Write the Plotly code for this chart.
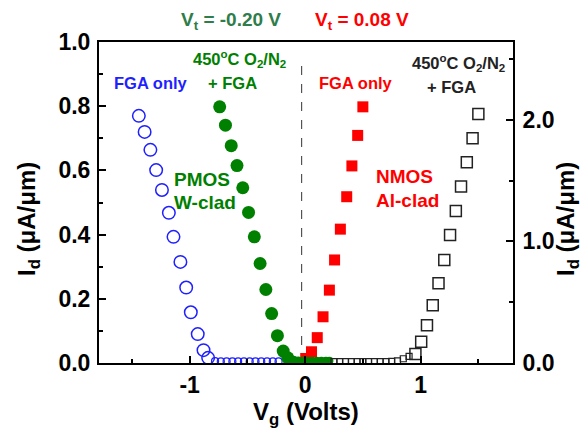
import plotly.graph_objects as go

# ---------------- data ----------------
# PMOS, FGA only (left axis, uA/um)
pmos_fga_v = [-1.44, -1.39, -1.34, -1.29, -1.24, -1.18, -1.14, -1.08, -1.03, -0.99, -0.93, -0.88, -0.84]
pmos_fga_id = [0.770, 0.720, 0.664, 0.601, 0.539, 0.468, 0.393, 0.315, 0.235, 0.158, 0.090, 0.040, 0.016]
pmos_fga_base_v = [-0.78, -0.73, -0.68, -0.63, -0.58, -0.53, -0.48, -0.43, -0.38, -0.33, -0.28, -0.23]
pmos_fga_base_id = [0.006, 0.005, 0.005, 0.005, 0.005, 0.005, 0.005, 0.005, 0.005, 0.005, 0.005, 0.005]

# PMOS, 450C O2/N2 + FGA (left axis)
pmos_ox_v = [-0.74, -0.69, -0.64, -0.59, -0.54, -0.49, -0.44, -0.39, -0.34, -0.29, -0.24, -0.19, -0.15]
pmos_ox_id = [0.798, 0.741, 0.677, 0.615, 0.546, 0.469, 0.393, 0.310, 0.229, 0.154, 0.085, 0.037, 0.016]
pmos_ox_base_v = [-0.10, -0.06, -0.02, 0.02, 0.06, 0.10, 0.14, 0.18, 0.21]
pmos_ox_base_id = [0.010, 0.008, 0.007, 0.007, 0.007, 0.007, 0.007, 0.007, 0.007]

# NMOS, FGA only (left axis)
nmos_fga_v = [0.50, 0.455, 0.405, 0.36, 0.305, 0.255, 0.21, 0.155, 0.105, 0.055, 0.005]
nmos_fga_id = [0.798, 0.709, 0.614, 0.518, 0.417, 0.321, 0.227, 0.144, 0.079, 0.035, 0.014]

# NMOS, 450C O2/N2 + FGA (right axis, uA/um)
nmos_ox_v = [1.50, 1.45, 1.40, 1.35, 1.305, 1.255, 1.205, 1.155, 1.105, 1.055, 1.005, 0.955]
nmos_ox_id = [2.047, 1.849, 1.652, 1.451, 1.251, 1.053, 0.848, 0.656, 0.475, 0.310, 0.175, 0.074]
nmos_ox_base_v = [0.25, 0.30, 0.35, 0.40, 0.45, 0.50, 0.55, 0.60, 0.65, 0.70, 0.75, 0.80, 0.85, 0.90]
nmos_ox_base_id = [0.012, 0.012, 0.012, 0.012, 0.012, 0.012, 0.012, 0.012, 0.012, 0.012, 0.014, 0.018, 0.035, 0.055]

vline_x = -0.03
vline_top = 0.945

x_ticks = [-1, 0, 1]
x_ticktext = ["-1", "0", "1"]
yl_ticks = [0.0, 0.2, 0.4, 0.6, 0.8, 1.0]
yl_ticktext = ["0.0", "0.2", "0.4", "0.6", "0.8", "1.0"]
yr_ticks = [0.0, 1.0, 2.0]
yr_ticktext = ["0.0", "1.0", "2.0"]

# ---------------- style ----------------
W, H = 587, 431
L, R, T, B = 99, 513, 42, 363
FONT = "Arial, Liberation Sans, sans-serif"
BLUE = "#1f1fff"
GREEN = "#008000"
TGREEN = "#2e7d4a"
RED = "#ff0000"
BLACK = "#222222"


def px(x):
    return (x - L) / (R - L)


def py(y):
    return (B - y) / (B - T)


fig = go.Figure()

# NMOS O2/N2 (right axis)
fig.add_trace(go.Scatter(x=nmos_ox_base_v, y=nmos_ox_base_id, mode="markers", yaxis="y2",
                         marker=dict(symbol="square-open", size=6, color=BLACK, line=dict(width=1.2))))
fig.add_trace(go.Scatter(x=nmos_ox_v, y=nmos_ox_id, mode="markers", yaxis="y2",
                         marker=dict(symbol="square-open", size=11, color=BLACK, line=dict(width=1.5))))
# PMOS FGA only
fig.add_trace(go.Scatter(x=pmos_fga_base_v, y=pmos_fga_base_id, mode="markers",
                         marker=dict(symbol="circle-open", size=7, color=BLUE, line=dict(width=1.2))))
fig.add_trace(go.Scatter(x=pmos_fga_v, y=pmos_fga_id, mode="markers",
                         marker=dict(symbol="circle-open", size=12.5, color=BLUE, line=dict(width=1.5))))
# NMOS FGA only
fig.add_trace(go.Scatter(x=nmos_fga_v, y=nmos_fga_id, mode="markers",
                         marker=dict(symbol="square", size=11, color=RED, line=dict(width=0))))
# PMOS O2/N2
fig.add_trace(go.Scatter(x=pmos_ox_base_v, y=pmos_ox_base_id, mode="markers",
                         marker=dict(symbol="circle", size=8, color=GREEN, line=dict(width=0))))
fig.add_trace(go.Scatter(x=pmos_ox_v, y=pmos_ox_id, mode="markers",
                         marker=dict(symbol="circle", size=13, color=GREEN, line=dict(width=0))))

fig.add_shape(type="line", xref="x", yref="y", x0=vline_x, x1=vline_x, y0=0, y1=vline_top,
              line=dict(color="#333333", width=1, dash="dash"), layer="below")

tickfont = dict(family=FONT, size=23, color="black", weight="bold")
axis_common = dict(showline=True, linecolor="black", linewidth=2, ticks="inside", ticklen=7,
                   tickwidth=1.5, tickcolor="black", showgrid=False, zeroline=False, tickfont=tickfont)

fig.update_layout(
    width=W, height=H,
    margin=dict(l=L, r=W - R, t=T, b=H - B, pad=0),
    paper_bgcolor="white", plot_bgcolor="white",
    showlegend=False,
    xaxis=dict(range=[-1.785, 1.80], tickvals=x_ticks, ticktext=x_ticktext, mirror=True,
               minor=dict(tickvals=[-1.5, -0.5, 0.5, 1.5], ticks="inside", ticklen=4, tickwidth=1.5, tickcolor="black"),
               ticklabelstandoff=0, **axis_common),
    yaxis=dict(range=[0, 1.0], tickvals=yl_ticks, ticktext=yl_ticktext,
               minor=dict(tickvals=[0.1, 0.3, 0.5, 0.7, 0.9], ticks="inside", ticklen=4, tickwidth=1.5, tickcolor="black"),
               ticklabelstandoff=2, **axis_common),
    yaxis2=dict(range=[0, 2.64], overlaying="y", side="right", tickvals=yr_ticks, ticktext=yr_ticktext,
                minor=dict(tickvals=[0.5, 1.5, 2.5], ticks="inside", ticklen=4, tickwidth=1.5, tickcolor="black"),
                ticklabelstandoff=3, **axis_common),
)

def ann(text, x, y, size, color, xanchor="center", angle=0):
    fig.add_annotation(text=text, x=px(x), y=py(y), xref="paper", yref="paper", showarrow=False,
                       xanchor=xanchor, yanchor="middle", textangle=angle,
                       font=dict(family=FONT, size=size, color=color, weight="bold"))

ann("V<sub>t</sub> = -0.20 V", 231, 21, 19, TGREEN)
ann("V<sub>t</sub> = 0.08 V", 362, 21, 19, RED)
ann("FGA only", 150.5, 83, 16.5, BLUE)
ann("450<sup>o</sup>C O<sub>2</sub>/N<sub>2</sub>", 239, 59, 16.5, GREEN)
ann("+ FGA", 232, 83, 16.5, GREEN)
ann("PMOS", 172, 179, 19, GREEN, xanchor="left")
ann("W-clad", 172, 203, 19, GREEN, xanchor="left")
ann("FGA only", 356, 83, 16.5, RED)
ann("NMOS", 374, 176, 19, RED, xanchor="left")
ann("Al-clad", 374, 200, 19, RED, xanchor="left")
ann("450<sup>o</sup>C O<sub>2</sub>/N<sub>2</sub>", 458, 63, 16.5, BLACK)
ann("+ FGA", 451, 87, 16.5, BLACK)
ann("I<sub>d</sub> (μA/μm)", 29, 219, 24, "black", angle=-90)
ann("I<sub>d</sub> (μA/μm)", 568, 219, 24, "black", angle=-90)
ann("V<sub>g</sub> (Volts)", 306, 413, 24, "black")

fig.write_html("out.html")
